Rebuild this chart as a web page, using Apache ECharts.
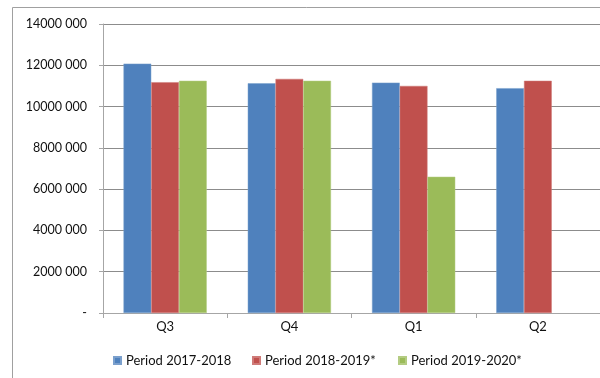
<!DOCTYPE html>
<html>
<head>
<meta charset="utf-8">
<script src="https://cdn.jsdelivr.net/npm/echarts@6/dist/echarts.min.js"></script>
<style>
  html, body { margin: 0; padding: 0; background: #fff; }
  #chart { width: 600px; height: 378px; }
</style>
</head>
<body>
<div id="chart"></div>
<script>
// Quarterly totals per period
const quarters = ['Q3', 'Q4', 'Q1', 'Q2'];
const period2017_2018 = [12080000, 11130000, 11160000, 10890000];
const period2018_2019 = [11180000, 11340000, 11000000, 11250000];
const period2019_2020 = [11250000, 11250000, 6600000, null];
const seriesNames = ['Period 2017-2018', 'Period 2018-2019*', 'Period 2019-2020*'];
const yTicks = { min: 0, max: 14000000, step: 2000000 };

const colors = ['#4F81BD', '#C0504D', '#9BBB59'];
const font = 'Lato, "Liberation Sans", sans-serif';

function fmtAxis(v) {
  if (v === 0) return '-';
  return Math.round(v / 1000) + ' 000';
}

const chart = echarts.init(document.getElementById('chart'), null, { renderer: 'canvas' });

const data = [period2017_2018, period2018_2019, period2019_2020];
const legendLeft = [113, 252, 398];

chart.setOption({
  animation: false,
  backgroundColor: '#fff',
  textStyle: { fontFamily: font },
  grid: { left: 103, right: -2, top: 24, bottom: 65, containLabel: false },
  legend: seriesNames.map((n, i) => ({
    data: [n],
    left: legendLeft[i],
    top: 354,
    padding: 0,
    itemWidth: 7,
    itemHeight: 7,
    itemGap: 0,
    icon: 'rect',
    textStyle: { fontFamily: font, fontSize: 13, color: '#111' },
    selectedMode: false
  })),
  xAxis: {
    type: 'category',
    data: quarters,
    axisLine: { show: true, lineStyle: { color: '#a6a6a6', width: 1 } },
    axisTick: { show: true, alignWithLabel: false, length: 5, lineStyle: { color: '#a6a6a6' } },
    axisLabel: { color: '#111', fontSize: 13, margin: 7, fontFamily: font },
    splitLine: { show: false }
  },
  yAxis: {
    type: 'value',
    min: yTicks.min,
    max: yTicks.max,
    interval: yTicks.step,
    axisLine: { show: true, lineStyle: { color: '#a6a6a6', width: 1 } },
    axisTick: { show: true, length: 4, lineStyle: { color: '#a6a6a6' } },
    axisLabel: { color: '#111', fontSize: 12.5, margin: 16, fontFamily: font, formatter: fmtAxis },
    splitLine: { show: true, lineStyle: { color: '#8c8c8c', width: 1 } }
  },
  graphic: [{
    type: 'rect',
    shape: { x: 12.5, y: 7.5, width: 620, height: 400 },
    style: { fill: 'none', stroke: '#a0a0a0', lineWidth: 1 },
    silent: true,
    z: -1
  }],
  series: seriesNames.map((n, i) => ({
    name: n,
    type: 'bar',
    data: data[i],
    barGap: '0%',
    barCategoryGap: '33%',
    itemStyle: { color: colors[i], borderColor: echarts.color.lift(colors[i], 0.25), borderWidth: 0.5 }
  }))
});
</script>
</body>
</html>
